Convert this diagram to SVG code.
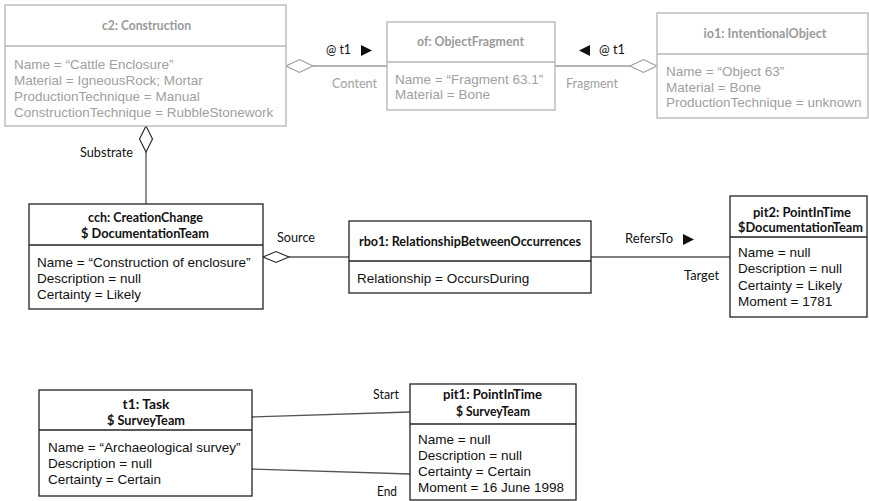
<svg xmlns="http://www.w3.org/2000/svg" width="869" height="501" viewBox="0 0 869 501">
  <style>
    .box { fill: #ffffff; stroke: #222222; stroke-width: 1.3; }
    .box.faded { stroke: #b4b4b4; }
    .div { stroke: #222222; stroke-width: 1.3; }
    .div.faded { stroke: #b4b4b4; }
    .title { font-family: Lato, "Open Sans", sans-serif; font-weight: bold; font-size: 13px; fill: #111111; text-anchor: middle; }
    .title.faded { fill: #9a9a9a; }
    .attr { font-family: "Liberation Sans", Arial, sans-serif; font-size: 13.5px; fill: #111111; }
    .attr.faded { fill: #a0a0a0; }
    .lbl { font-family: Lato, "Open Sans", sans-serif; font-size: 13px; fill: #111111; }
    .lbl.faded { fill: #a0a0a0; }
    .conn { stroke: #555555; stroke-width: 1.3; fill: none; }
    .conn.faded { stroke: #9a9a9a; }
    .diamond { fill: #ffffff; stroke: #222222; stroke-width: 1.1; }
    .diamond.faded { stroke: #9a9a9a; }
    .tri { fill: #111111; }
  </style>

  <!-- connectors -->
  <g id="connectors">
    <!-- c2 Content -> of -->
    <line class="conn faded" x1="313" y1="66" x2="387" y2="66"/>
    <polygon class="diamond faded" points="286,66 299.5,59.5 313,66 299.5,72.5"/>
    <text class="lbl" x="326" y="54" textLength="25" lengthAdjust="spacingAndGlyphs">@ t1</text>
    <polygon class="tri" points="361,45 372,50.5 361,56"/>
    <text class="lbl faded" x="332" y="88" textLength="45" lengthAdjust="spacingAndGlyphs">Content</text>

    <!-- of -> io1 Fragment -->
    <line class="conn faded" x1="555" y1="66" x2="630" y2="66"/>
    <polygon class="diamond faded" points="657,66 643.5,59.5 630,66 643.5,72.5"/>
    <polygon class="tri" points="590,45 579,50.5 590,56"/>
    <text class="lbl" x="599" y="54" textLength="26" lengthAdjust="spacingAndGlyphs">@ t1</text>
    <text class="lbl faded" x="566" y="88" textLength="52" lengthAdjust="spacingAndGlyphs">Fragment</text>

    <!-- c2 Substrate -> cch -->
    <line class="conn" x1="146" y1="152" x2="146" y2="204"/>
    <polygon class="diamond" points="146,126 152.5,139 146,152 139.5,139"/>
    <text class="lbl" x="80" y="157" textLength="53" lengthAdjust="spacingAndGlyphs">Substrate</text>

    <!-- cch Source -> rbo1 -->
    <line class="conn" x1="289" y1="257" x2="349" y2="257"/>
    <polygon class="diamond" points="263,257 276,251.5 289,257 276,262.5"/>
    <text class="lbl" x="277" y="242" textLength="38" lengthAdjust="spacingAndGlyphs">Source</text>

    <!-- rbo1 RefersTo -> pit2 -->
    <line class="conn" x1="591" y1="257" x2="730" y2="257"/>
    <text class="lbl" x="625" y="243" textLength="48" lengthAdjust="spacingAndGlyphs">RefersTo</text>
    <polygon class="tri" points="683,234 694,239.5 683,245"/>
    <text class="lbl" x="684" y="280" textLength="35" lengthAdjust="spacingAndGlyphs">Target</text>

    <!-- t1 Start / End -> pit1 -->
    <line class="conn" x1="252" y1="417" x2="410" y2="412"/>
    <text class="lbl" x="373" y="399" textLength="26" lengthAdjust="spacingAndGlyphs">Start</text>
    <line class="conn" x1="252" y1="469" x2="410" y2="474"/>
    <text class="lbl" x="377" y="496" textLength="20" lengthAdjust="spacingAndGlyphs">End</text>
  </g>

  <!-- c2: Construction -->
  <g id="c2">
    <rect class="box faded" x="5" y="5" width="281" height="121"/>
    <line class="div faded" x1="5" y1="46" x2="286" y2="46"/>
    <text class="title faded" x="146.5" y="30" textLength="89" lengthAdjust="spacingAndGlyphs">c2: Construction</text>
    <text class="attr faded" x="14" y="69">Name = “Cattle Enclosure”</text>
    <text class="attr faded" x="14" y="85">Material = IgneousRock; Mortar</text>
    <text class="attr faded" x="14" y="101">ProductionTechnique = Manual</text>
    <text class="attr faded" x="14" y="117">ConstructionTechnique = RubbleStonework</text>
  </g>

  <!-- of: ObjectFragment -->
  <g id="of">
    <rect class="box faded" x="387" y="22" width="168" height="88"/>
    <line class="div faded" x1="387" y1="62" x2="555" y2="62"/>
    <text class="title faded" x="470.5" y="46" textLength="107" lengthAdjust="spacingAndGlyphs">of: ObjectFragment</text>
    <text class="attr faded" x="395" y="84">Name = “Fragment 63.1”</text>
    <text class="attr faded" x="395" y="99">Material = Bone</text>
  </g>

  <!-- io1: IntentionalObject -->
  <g id="io1">
    <rect class="box faded" x="657" y="13" width="211" height="105"/>
    <line class="div faded" x1="657" y1="54" x2="868" y2="54"/>
    <text class="title faded" x="765" y="38" textLength="123" lengthAdjust="spacingAndGlyphs">io1: IntentionalObject</text>
    <text class="attr faded" x="666" y="76">Name = “Object 63”</text>
    <text class="attr faded" x="666" y="92">Material = Bone</text>
    <text class="attr faded" x="666" y="107">ProductionTechnique = unknown</text>
  </g>

  <!-- cch: CreationChange -->
  <g id="cch">
    <rect class="box" x="29" y="204" width="234" height="105"/>
    <line class="div" x1="29" y1="245" x2="263" y2="245"/>
    <text class="title" x="145.5" y="222" textLength="115" lengthAdjust="spacingAndGlyphs">cch: CreationChange</text>
    <text class="title" x="145" y="238" textLength="128" lengthAdjust="spacingAndGlyphs">$ DocumentationTeam</text>
    <text class="attr" x="37" y="267">Name = “Construction of enclosure”</text>
    <text class="attr" x="37" y="283">Description = null</text>
    <text class="attr" x="37" y="299">Certainty = Likely</text>
  </g>

  <!-- rbo1: RelationshipBetweenOccurrences -->
  <g id="rbo1">
    <rect class="box" x="349" y="221" width="242" height="72"/>
    <line class="div" x1="349" y1="261" x2="591" y2="261"/>
    <text class="title" x="470" y="246" textLength="222" lengthAdjust="spacingAndGlyphs">rbo1: RelationshipBetweenOccurrences</text>
    <text class="attr" x="357" y="283">Relationship = OccursDuring</text>
  </g>

  <!-- pit2: PointInTime -->
  <g id="pit2">
    <rect class="box" x="730" y="196" width="137" height="121"/>
    <line class="div" x1="730" y1="237" x2="867" y2="237"/>
    <text class="title" x="802" y="217" textLength="98" lengthAdjust="spacingAndGlyphs">pit2: PointInTime</text>
    <text class="title" x="800.5" y="232" textLength="125" lengthAdjust="spacingAndGlyphs">$DocumentationTeam</text>
    <text class="attr" x="738" y="257">Name = null</text>
    <text class="attr" x="738" y="273">Description = null</text>
    <text class="attr" x="738" y="290">Certainty = Likely</text>
    <text class="attr" x="738" y="306">Moment = 1781</text>
  </g>

  <!-- t1: Task -->
  <g id="t1">
    <rect class="box" x="39" y="390" width="213" height="106"/>
    <line class="div" x1="39" y1="430" x2="252" y2="430"/>
    <text class="title" x="146" y="409" textLength="47" lengthAdjust="spacingAndGlyphs">t1: Task</text>
    <text class="title" x="146" y="425" textLength="78" lengthAdjust="spacingAndGlyphs">$ SurveyTeam</text>
    <text class="attr" x="48" y="452">Name = “Archaeological survey”</text>
    <text class="attr" x="48" y="468">Description = null</text>
    <text class="attr" x="48" y="484">Certainty = Certain</text>
  </g>

  <!-- pit1: PointInTime -->
  <g id="pit1">
    <rect class="box" x="410" y="384" width="166" height="116"/>
    <line class="div" x1="410" y1="424" x2="576" y2="424"/>
    <text class="title" x="492.5" y="399" textLength="99" lengthAdjust="spacingAndGlyphs">pit1: PointInTime</text>
    <text class="title" x="493" y="416" textLength="74" lengthAdjust="spacingAndGlyphs">$ SurveyTeam</text>
    <text class="attr" x="418" y="444">Name = null</text>
    <text class="attr" x="418" y="460">Description = null</text>
    <text class="attr" x="418" y="476">Certainty = Certain</text>
    <text class="attr" x="418" y="492">Moment = 16 June 1998</text>
  </g>
</svg>
